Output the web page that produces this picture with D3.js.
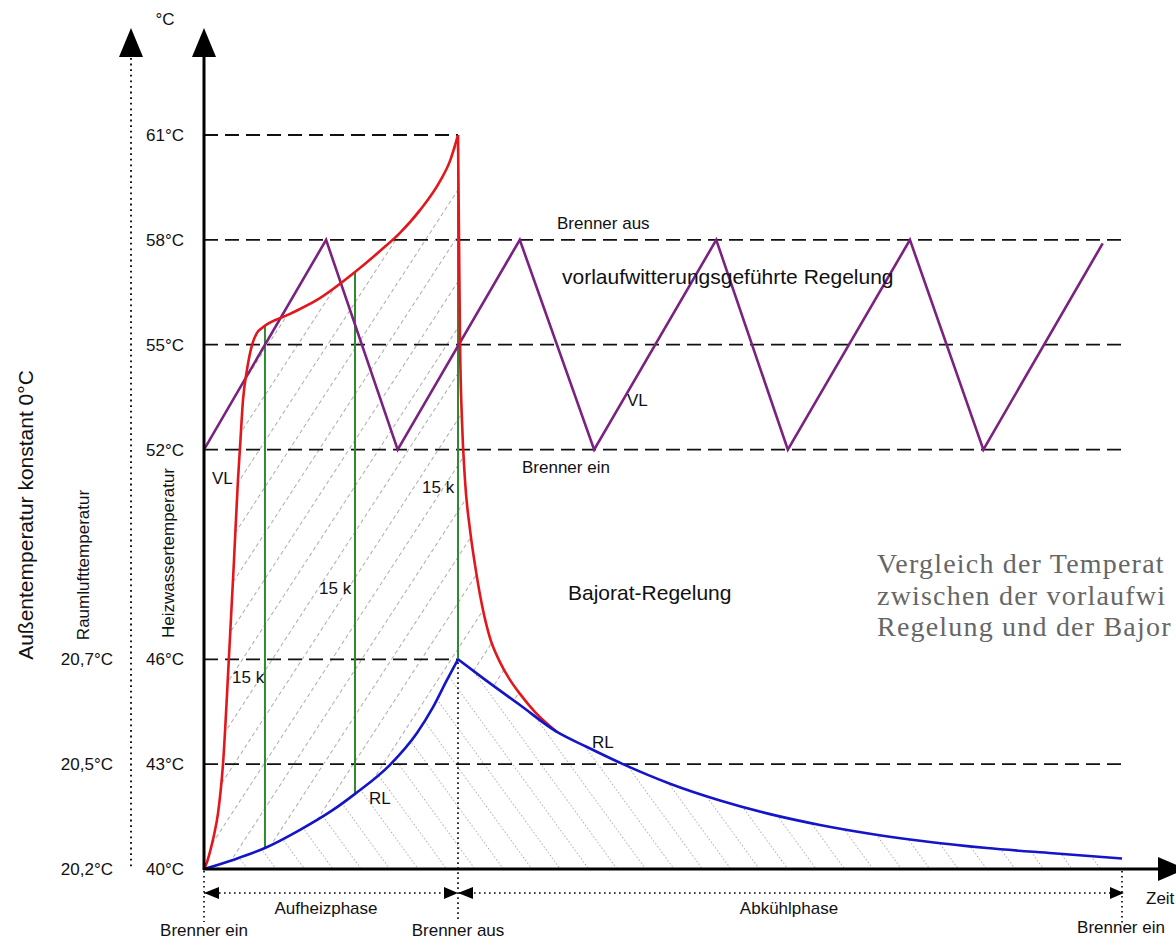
<!DOCTYPE html>
<html><head><meta charset="utf-8">
<script src="https://cdn.jsdelivr.net/npm/d3@7"></script>
<style>
body{margin:0;background:#fff;overflow:hidden}
svg{display:block}
text{font-family:"Liberation Sans",Arial,sans-serif;fill:#111}
</style>
</head><body>
<svg id="c" width="1176" height="941"></svg>
<script>
// ---------- data (time in arbitrary units 0..100, temperature in °C) ----------
const waterTicks = [61, 58, 55, 52, 46, 43, 40];
const roomLabels = ["20,2°C", "20,5°C", "20,7°C"];
const roomAt = [40, 43, 46];

const refLevels = [61, 58, 55, 52, 46, 43];
const refEnd = [27.67, 100, 100, 100, 27.67, 100];

// vorlaufwitterungsgeführte Regelung (VL zigzag)
const vlTime = [0, 13.3, 21.1, 34.4, 42.5, 55.8, 63.6, 76.9, 84.9, 97.9];
const vlTemp = [52, 58, 52, 58, 52, 58, 52, 58, 52, 57.9];

// Bajorat-Regelung VL (red)
const redHeatTime = [0, 0.33, 0.65, 1.09, 1.53, 2.07, 2.72, 3.27, 3.70, 3.92, 4.25, 4.68, 5.23, 5.77, 6.32, 9.37, 12.31, 16.45, 19.17, 21.35, 23.53, 25.71, 26.80, 27.67];
const redHeatTemp = [40, 40.2, 40.49, 40.97, 41.6, 43.0, 46.07, 48.84, 51.13, 52.05, 53.42, 54.28, 54.99, 55.34, 55.48, 55.88, 56.28, 57.08, 57.68, 58.20, 58.85, 59.68, 60.26, 61];
const redCoolTime = [27.67, 27.78, 27.89, 28.10, 28.43, 28.98, 29.52, 30.28, 31.15, 32.24, 33.33, 34.42, 36.06, 38.45];
const redCoolTemp = [61, 58.0, 55.08, 52.85, 51.13, 49.70, 48.70, 47.55, 46.61, 45.92, 45.41, 45.01, 44.49, 43.92];

// Bajorat-Regelung RL (blue)
const blueHeatTime = [0, 3.16, 6.64, 10.46, 14.05, 16.45, 20.26, 23.20, 24.95, 26.47, 27.67];
const blueHeatTemp = [40, 40.26, 40.6, 41.12, 41.69, 42.15, 42.98, 43.89, 44.63, 45.41, 46];
const blueCoolTime = [27.67, 30.39, 34.42, 38.45, 41.72, 45.64, 50.76, 56.21, 61.66, 67.10, 72.55, 78.0, 85.29, 92.48, 100];
const blueCoolTemp = [46, 45.46, 44.69, 43.92, 43.49, 43.0, 42.44, 41.96, 41.57, 41.26, 41.01, 40.81, 40.60, 40.45, 40.30];

// 15 K spreads (green)
const greenTime = [6.64, 16.45, 27.67];
const greenTop = [55.56, 57.08, 61];
const greenBottom = [40.6, 42.15, 46];

// ---------- drawing ----------
const svg = d3.select("#c");
const x = d3.scaleLinear().domain([0, 100]).range([204, 1122]);
const y = d3.scaleLinear().domain([40, 61]).range([869, 135]);
const defs = svg.append("defs");

function hatch(id, angle, w, dash, col) {
  const p = defs.append("pattern").attr("id", id)
    .attr("patternUnits", "userSpaceOnUse")
    .attr("width", w).attr("height", 28)
    .attr("patternTransform", `rotate(${angle})`);
  p.append("line").attr("x1", w / 2).attr("x2", w / 2).attr("y1", 0).attr("y2", 28)
    .attr("stroke", col).attr("stroke-width", 0.9).attr("stroke-dasharray", dash);
}
hatch("hUp", 33, 25, "4,3", "#a3a3a3");
hatch("hDown", -36, 23, "1.2,2.3", "#8f8f8f");

const curveLine = (ts, vs, curve) => d3.line()
  .x(i => x(ts[i])).y(i => y(vs[i]))
  .curve(curve || d3.curveMonotoneX)(d3.range(ts.length));

const redD1 = curveLine(redHeatTime, redHeatTemp);
const redD2 = curveLine(redCoolTime, redCoolTemp);
const blueD1 = curveLine(blueHeatTime, blueHeatTemp);
const blueD2 = curveLine(blueCoolTime, blueCoolTemp);

const redArea = redD1 + redD2.replace(/^M/, "L") +
  `L${x(redCoolTime[redCoolTime.length - 1])},${y(40)}L${x(0)},${y(40)}Z`;
const blueArea = blueD1 + blueD2.replace(/^M/, "L") +
  `L${x(100)},${y(40)}L${x(0)},${y(40)}Z`;

svg.append("path").attr("d", redArea).attr("fill", "url(#hUp)");
svg.append("path").attr("d", blueArea).attr("fill", "#fff");
svg.append("path").attr("d", blueArea).attr("fill", "url(#hDown)");

// dashed reference lines
svg.append("g").selectAll("line").data(refLevels).join("line")
  .attr("x1", x(0)).attr("x2", (d, i) => x(refEnd[i]))
  .attr("y1", d => y(d)).attr("y2", d => y(d))
  .attr("stroke", "#111").attr("stroke-width", 1.8).attr("stroke-dasharray", "14,7");

// green 15 K lines
svg.append("g").selectAll("line").data(greenTime).join("line")
  .attr("x1", d => x(d)).attr("x2", d => x(d))
  .attr("y1", (d, i) => y(greenTop[i])).attr("y2", (d, i) => y(greenBottom[i]))
  .attr("stroke", "#2f8a2f").attr("stroke-width", 2);

// purple zigzag
svg.append("path").attr("d", curveLine(vlTime, vlTemp, d3.curveLinear))
  .attr("fill", "none").attr("stroke", "#7b2280").attr("stroke-width", 2.6);

// red and blue
[redD1, redD2].forEach(d => svg.append("path").attr("d", d).attr("fill", "none")
  .attr("stroke", "#e3161b").attr("stroke-width", 2.6).attr("stroke-linejoin", "round"));
[blueD1, blueD2].forEach(d => svg.append("path").attr("d", d).attr("fill", "none")
  .attr("stroke", "#1414c8").attr("stroke-width", 2.6).attr("stroke-linejoin", "round"));

// axes lines
svg.append("line").attr("x1", 204).attr("x2", 204).attr("y1", 56).attr("y2", 870)
  .attr("stroke", "#000").attr("stroke-width", 3);
svg.append("line").attr("x1", 203).attr("x2", 1162).attr("y1", 869).attr("y2", 869)
  .attr("stroke", "#000").attr("stroke-width", 3);
svg.append("line").attr("x1", 131).attr("x2", 131).attr("y1", 58).attr("y2", 870)
  .attr("stroke", "#000").attr("stroke-width", 1.8).attr("stroke-dasharray", "1.8,3.8");

// arrowheads
const tri = (pts) => svg.append("path").attr("d", "M" + pts.map(p => p.join(",")).join("L") + "Z").attr("fill", "#000");
tri([[131, 28], [119, 57], [143, 57]]);
tri([[204, 28], [192, 57], [216, 57]]);
tri([[1186, 869], [1158, 857], [1158, 881]]);

// y axis tick labels (Heizwasser)
const gW = svg.append("g").attr("transform", "translate(204,0)")
  .call(d3.axisLeft(y).tickValues(waterTicks).tickSize(0).tickPadding(20).tickFormat(d => d + "°C"));
gW.select(".domain").remove();
gW.attr("font-size", 17).attr("font-family", null);

// room temperature tick labels
const gR = svg.append("g").attr("transform", "translate(131,0)")
  .call(d3.axisLeft(y).tickValues(roomAt).tickSize(0).tickPadding(18).tickFormat((d, i) => roomLabels[i]));
gR.select(".domain").remove();
gR.attr("font-size", 17).attr("font-family", null);

// bottom dimension lines
const dotted = (x1, y1, x2, y2, w) => svg.append("line").attr("x1", x1).attr("y1", y1).attr("x2", x2).attr("y2", y2)
  .attr("stroke", "#000").attr("stroke-width", w || 1.6).attr("stroke-dasharray", "1.6,3.4");
dotted(x(0), 871, x(0), 922);
dotted(x(27.67), y(46) + 3, x(27.67), 920);
dotted(x(100), 871, x(100), 926);
dotted(x(0), 893, x(100), 893);
tri([[204, 893], [219, 887], [219, 899]]);
tri([[458, 893], [444, 887], [444, 899]]);
tri([[458, 893], [473, 887], [473, 899]]);
tri([[1124, 893], [1110, 887], [1110, 899]]);

// texts
function txt(s, tx, ty, opt) {
  opt = opt || {};
  const t = svg.append("text").attr("x", tx).attr("y", ty).text(s)
    .attr("font-size", opt.size || 17)
    .attr("text-anchor", opt.anchor || "start");
  if (opt.rot) t.attr("transform", `rotate(${opt.rot},${tx},${ty})`);
  if (opt.fill) t.style("fill", opt.fill);
  if (opt.family) t.style("font-family", opt.family);
  if (opt.ls) t.attr("letter-spacing", opt.ls);
  return t;
}
txt("°C", 165, 25, {anchor: "middle"});
txt("Außentemperatur konstant 0°C", 33, 515, {rot: -90, anchor: "middle", size: 21});
txt("Raumlufttemperatur", 89, 565, {rot: -90, anchor: "middle"});
txt("Heizwassertemperatur", 174, 553, {rot: -90, anchor: "middle"});

txt("Brenner aus", 557, 229);
txt("vorlaufwitterungsgeführte Regelung", 562, 284, {size: 21});
txt("VL", 627, 406);
txt("Brenner ein", 522, 473);
txt("VL", 212, 484);
txt("15 k", 232, 683);
txt("15 k", 319, 594);
txt("15 k", 422, 493);
txt("Bajorat-Regelung", 568, 600, {size: 21});
txt("RL", 369, 804);
txt("RL", 592, 748);

txt("Zeit", 1146, 904);
txt("Aufheizphase", 326, 914, {anchor: "middle"});
txt("Abkühlphase", 789, 914, {anchor: "middle"});
txt("Brenner ein", 204, 936, {anchor: "middle"});
txt("Brenner aus", 458, 936, {anchor: "middle"});
txt("Brenner ein", 1121, 933, {anchor: "middle"});

// note box text: only the part that is visible in the reference
const serif = "'Liberation Serif','Times New Roman',serif";
const noteLines = ["Vergleich der Temperat", "zwischen der vorlaufwi", "Regelung und der Bajor"];
noteLines.forEach((s, i) => txt(s, 877, 573 + i * 31.5, {size: 28, fill: "#666", family: serif, ls: 1.2}));
</script>
</body></html>
